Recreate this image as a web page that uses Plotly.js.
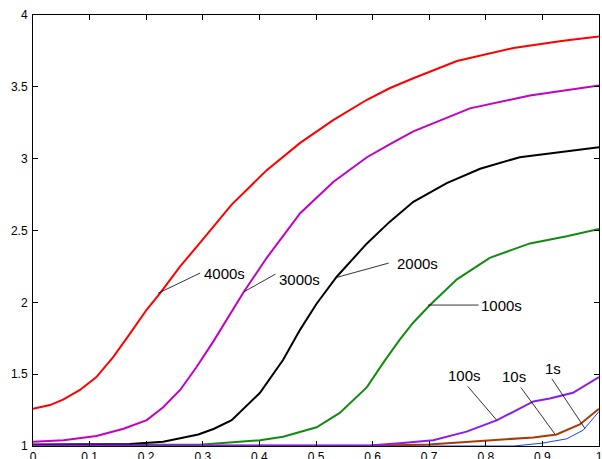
<!DOCTYPE html>
<html><head><meta charset="utf-8">
<script src="https://cdn.plot.ly/plotly-3.0.1.min.js"></script>
<style>html,body{margin:0;padding:0;background:#fff}#chart{width:602px;height:459px}</style>
</head><body><div id="chart"></div>
<script>
// 4000s
const x4000 = [0,0.03,0.054,0.083,0.112,0.142,0.171,0.201,0.224,0.26,0.292,0.319,0.351,0.413,0.472,0.531,0.59,0.63,0.672,0.749,0.849,0.937,1];
const y4000 = [1.26,1.285,1.325,1.39,1.48,1.62,1.78,1.95,2.06,2.25,2.40,2.53,2.68,2.92,3.11,3.27,3.41,3.49,3.56,3.68,3.77,3.82,3.85];
// 3000s
const x3000 = [0,0.054,0.112,0.16,0.201,0.23,0.26,0.289,0.319,0.348,0.372,0.413,0.472,0.531,0.59,0.63,0.672,0.772,0.878,1];
const y3000 = [1.03,1.04,1.07,1.12,1.18,1.27,1.39,1.55,1.73,1.92,2.07,2.31,2.62,2.84,3.01,3.10,3.19,3.35,3.44,3.51];
// 2000s
const x2000 = [0,0.1,0.171,0.23,0.292,0.32,0.351,0.401,0.442,0.472,0.501,0.537,0.59,0.63,0.672,0.731,0.79,0.86,0.937,1];
const y2000 = [1.01,1.01,1.014,1.03,1.08,1.12,1.18,1.37,1.60,1.81,1.99,2.18,2.41,2.56,2.70,2.83,2.93,3.01,3.05,3.08];
// 1000s
const x1000 = [0,0.2,0.3,0.401,0.442,0.501,0.542,0.59,0.619,0.648,0.672,0.701,0.749,0.807,0.878,0.943,1];
const y1000 = [1.006,1.006,1.01,1.04,1.065,1.13,1.23,1.41,1.58,1.74,1.86,1.98,2.16,2.31,2.41,2.46,2.51];
// 100s
const x100 = [0,0.3,0.6,0.648,0.707,0.766,0.82,0.884,0.913,0.954,1];
const y100 = [1.003,1.003,1.005,1.02,1.04,1.10,1.18,1.31,1.33,1.37,1.48];
// 10s
const x10 = [0,0.3,0.6,0.7,0.8,0.884,0.925,0.966,1];
const y10 = [1.0,1.0,1.002,1.01,1.04,1.06,1.08,1.15,1.26];
// 1s
const x1 = [0,0.5,0.85,0.9,0.943,0.972,1];
const y1 = [1.0,1.0,1.0,1.02,1.05,1.11,1.24];

const labels = ["4000s","3000s","2000s","1000s","100s","10s","1s"];
const labX = [0.300,0.433,0.641,0.790,0.763,0.849,0.919];
const labY = [2.204,2.16,2.267,1.975,1.494,1.482,1.541];
const lineX0 = [0.298,0.431,0.631,0.790,0.766,0.860,0.915];
const lineY0 = [2.209,2.202,2.276,1.981,1.425,1.418,1.478];
const lineX1 = [0.221,0.373,0.537,0.698,0.819,0.922,0.975];
const lineY1 = [2.063,2.074,2.174,1.981,1.181,1.084,1.123];

const series = [
  {x: x1000, y: y1000, color: '#138a13', w: 2},
  {x: x2000, y: y2000, color: '#000000', w: 2},
  {x: x3000, y: y3000, color: '#c400c4', w: 2},
  {x: x4000, y: y4000, color: '#ff0000', w: 2},
  {x: x1, y: y1, color: '#1a3cff', w: 1},
  {x: x10, y: y10, color: '#a83a08', w: 2},
  {x: x100, y: y100, color: '#8a1ee8', w: 2}
];
const traces = series.map(t => ({x: t.x, y: t.y, type: 'scatter', mode: 'lines',
  line: {color: t.color, width: t.w, shape: 'linear'}, hoverinfo: 'skip'}));

const font = 'Liberation Sans, Arial, Helvetica, sans-serif';
const annotations = labels.map((txt, i) => ({
  x: lineX1[i], y: lineY1[i], xref: 'x', yref: 'y',
  ax: lineX0[i], ay: lineY0[i], axref: 'x', ayref: 'y',
  text: '', showarrow: true, arrowhead: 0, arrowwidth: 0.8, arrowcolor: '#000', standoff: 0, startstandoff: 0
})).concat(labels.map((txt, i) => ({
  x: labX[i], y: labY[i], xref: 'x', yref: 'y', text: txt, showarrow: false,
  xanchor: i < 4 ? 'left' : 'center', yanchor: 'middle',
  borderpad: 0, font: {family: font, size: 15, color: '#000'}
})));

const axisCommon = {ticks: 'inside', ticklen: 5, tickcolor: '#000', showline: true, linecolor: '#000',
  linewidth: 1, mirror: 'ticks', showgrid: false, zeroline: false, ticklabeloverflow: 'allow'};

const layout = {
  width: 602, height: 459,
  margin: {l: 33, r: 3, t: 15, b: 13},
  paper_bgcolor: '#fff', plot_bgcolor: '#fff',
  showlegend: false,
  font: {family: font, size: 12, color: '#000'},
  xaxis: Object.assign({range: [0, 1], tickvals: [0,0.1,0.2,0.3,0.4,0.5,0.6,0.7,0.8,0.9,1],
    ticktext: ['0','0.1','0.2','0.3','0.4','0.5','0.6','0.7','0.8','0.9','1'], ticklabelstandoff: 0}, axisCommon),
  yaxis: Object.assign({range: [1, 4], tickvals: [1,1.5,2,2.5,3,3.5,4],
    ticktext: ['1','1.5','2','2.5','3','3.5','4'], ticklabelstandoff: 2}, axisCommon),
  annotations: annotations
};
Plotly.newPlot('chart', traces, layout, {staticPlot: true, displayModeBar: false});
</script></body></html>
